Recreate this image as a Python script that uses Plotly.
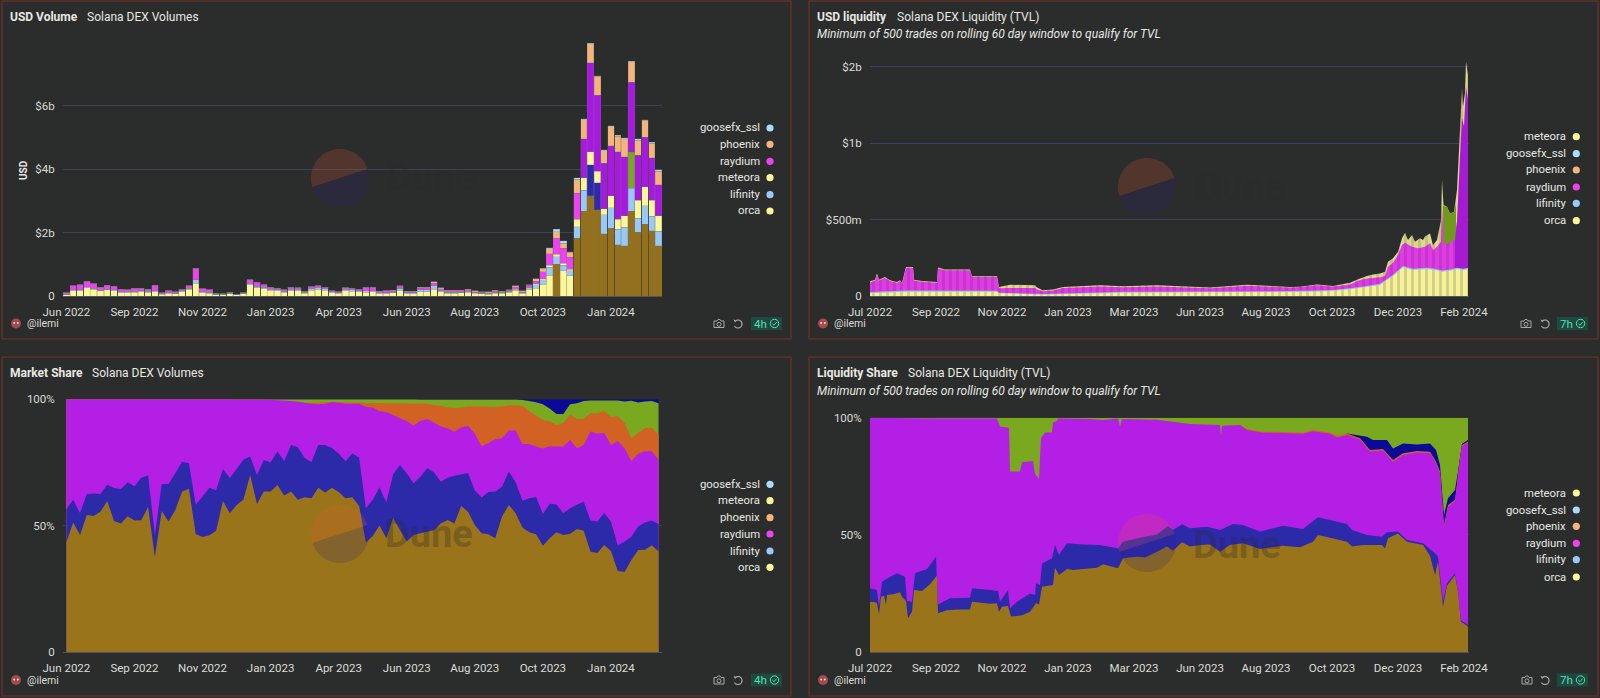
"""Solana DEX dashboard: volumes, liquidity and their shares, four panels in one figure."""

import numpy as np
import pandas as pd
import plotly.graph_objects as go

W, H = 1600, 698
BG = "#2b2d2d"
TEXT = "#e8e8e0"
TICK = "#dcdcd4"
GRID = "#34465a"
FONT = "Roboto"

# =============================================================================
# USD Volume (weekly, $b)
# =============================================================================
WEEK_START = "2022-06-27"
VOLUME_TICKS = ["2022-06-27", "2022-09-05", "2022-11-14", "2023-01-23", "2023-04-03",
                "2023-06-12", "2023-08-21", "2023-10-30", "2024-01-08"]

vol_orca = [.04, .16, .16, .26, .21, .16, .20, .16, .11, .11,
            .125, .13, .125, .13, .06, .08, .07, .14, .21, .41,
            .11, .09, .04, .04, .065, .035, .065, .36, .26, .23,
            .18, .16, .125, .17, .16, .09, .18, .21, .18, .11,
            .08, .165, .15, .13, .12, .13, .075, .075, .095, .17,
            .07, .07, .13, .13, .22, .13, .09, .09, .10, .12,
            .08, .065, .06, .08, .085, .115, .175, .08, .22, .24,
            .37, .66, 1.01, .80, .64, 1.82, 2.68, 3.17, 2.72, 1.96,
            2.14, 1.62, 1.58, 2.68, 2.02, 2.26, 2.06, 1.58]
vol_lifinity = [.02, .03, .03, .04, .03, .02, .02, .04, .03, .03,
                .03, .04, .03, .03, .01, .025, .02, .025, .03, .10,
                .03, .03, .01, .01, .02, .005, .02, .04, .05, .05,
                .04, .03, .03, .05, .05, .03, .05, .06, .05, .03,
                .03, .05, .045, .04, .04, .04, .02, .025, .03, .08,
                .04, .03, .06, .07, .10, .05, .03, .03, .02, .03,
                .02, .02, .02, .03, .03, .03, .03, .02, .05, .11,
                .14, .24, .23, .17, .16, .37, .66, .97, .86, .60,
                .65, .49, .59, .72, .44, .59, .45, .46]
vol_meteora = [0, 0, 0, 0, 0, 0, 0, 0, 0, 0,
               0, 0, 0, 0, 0, 0, 0, 0, 0, 0,
               0, 0, 0, 0, 0, 0, 0, 0, 0, 0,
               0, 0, 0, 0, 0, 0, 0, 0, 0, 0,
               0, 0, 0, 0, 0, 0, 0, 0, 0, 0,
               0, 0, 0, 0, .01, 0, 0, 0, 0, 0,
               0, 0, 0, 0, 0, 0, .01, 0, .01, .03,
               .03, .07, .08, .06, .04, .24, .40, .42, .36, .19,
               .37, .31, .37, 1.14, .57, .60, .52, .49]
vol_raydium = [.04, .13, .16, .17, .15, .10, .12, .11, .08, .06,
               .085, .08, .065, .18, .04, .055, .04, .055, .08, .37,
               .09, .08, .03, .02, .035, .02, .025, .12, .13, .08,
               .06, .05, .045, .05, .05, .03, .07, .055, .05, .03,
               .02, .05, .05, .045, .11, .10, .045, .06, .04, .06,
               .03, .035, .06, .06, .08, .05, .04, .04, .04, .04,
               .03, .03, .03, .04, .02, .03, .07, .04, .06, .09,
               .23, .37, .51, .47, .38, .81, 1.23, 2.81, 2.40, 1.44,
               1.59, 2.13, 1.86, 2.20, 1.42, 1.56, 1.33, .98]
vol_phoenix = [0, 0, 0, 0, 0, 0, 0, 0, 0, 0,
               0, 0, 0, 0, 0, 0, 0, 0, 0, 0,
               0, 0, 0, 0, 0, 0, 0, 0, 0, 0,
               0, 0, 0, 0, 0, 0, 0, 0, 0, 0,
               0, 0, 0, 0, .01, .01, .01, .01, .01, .02,
               .01, .01, .02, .02, .04, .03, .02, .02, .02, .03,
               .03, .025, .02, .03, .02, .025, .04, .03, .02, .07,
               .10, .15, .20, .16, .16, .45, .60, .59, .59, .40,
               .60, .50, .56, .65, .47, .53, .46, .43]
vol_goosefx = [0, 0, 0, 0, 0, 0, 0, 0, 0, 0,
               0, 0, 0, 0, 0, 0, 0, 0, 0, 0,
               0, 0, 0, 0, 0, 0, 0, 0, 0, 0,
               0, 0, 0, 0, 0, 0, 0, 0, 0, 0,
               0, 0, 0, 0, 0, 0, 0, 0, 0, 0,
               0, 0, 0, 0, 0, 0, 0, 0, 0, 0,
               0, 0, 0, 0, 0, 0, 0, 0, 0, 0,
               .01, .03, .08, .08, .01, .04, .02, .02, .02, .02,
               .02, .02, .03, .02, .04, .03, .03, .04]

# Weeks where the original renders a series in its darker colour
ORCA_DARK_WEEKS = [72, 75, 76, 77, 78, 79, 80, 81, 82, 83, 84, 85, 86, 87]
LIFINITY_DARK_WEEKS = [77, 78]
METEORA_GREEN_WEEKS = [83]
RAYDIUM_DARK_WEEKS = [76, 77, 78, 79, 80, 81, 82, 83, 84, 85, 86, 87]

# =============================================================================
# Market Share (weekly, top edge of each stacked band, %)
# =============================================================================
share_orca = [43.4, 51.2, 46.3, 54.2, 53.8, 55.5, 59.8, 51.8, 50.9, 53.7,
              52, 52.1, 57.4, 37.6, 55.8, 51.6, 56.2, 63.5, 64.6, 46.7,
              45.5, 46.2, 48, 59.8, 54.9, 58.2, 60.2, 70, 58.6, 63.5,
              63.5, 66.1, 61.9, 63.5, 60.2, 61.2, 60.8, 65, 63.1, 65,
              63.3, 60.8, 61.2, 57.9, 43.3, 45.9, 50.1, 45, 53,
              48.3, 43.7, 46.3, 47, 47.6, 48.3, 50.9, 52.2, 50.9, 57.8,
              55.5, 50.3, 47, 46.6, 45, 53.6, 58.2, 54.9, 49.3, 47.4,
              46.6, 42, 45, 47.4, 46.3, 46.8, 48.7, 48, 39.7, 39.2,
              42.3, 40, 32.1, 31.7, 36.4, 40.4, 40.5, 42.2, 39.8]
share_lifinity = [56.5, 60.2, 55, 62.5, 62.7, 62.5, 66.2, 64.9, 64.5, 67.2,
                  65.6, 69, 69.9, 46.3, 66.5, 66.5, 70.7, 75.3, 74.7, 58.3,
                  61.5, 65, 64, 72.4, 68.9, 72.4, 76.1, 77.4, 70, 76,
                  75.1, 79.3, 75.6, 81.9, 81, 76.8, 75.2, 81.9, 81.9, 80.7,
                  78.6, 75.5, 78.6, 77, 56.9, 60.2, 65.2, 59.2, 70.3, 74,
                  70.7, 66.8, 69.4, 72.7, 71.1, 67.4, 69, 69.7, 70.2, 70.8,
                  63.9, 61.1, 63.3, 63.5, 65.4, 71.4, 67.2, 59.9, 60.8, 61.3,
                  54.6, 58.7, 58.4, 54.9, 56.9, 58.3, 59.5, 52, 51.6, 55,
                  51.6, 42.1, 43.7, 45.6, 49.7, 51.2, 52, 50.7]
share_raydium = [100, 100, 100, 100, 100, 100, 100, 100, 100, 100,
                 100, 100, 100, 100, 100, 100, 100, 100, 100, 100,
                 100, 100, 100, 100, 100, 99.9, 99.9, 99.9, 99.9, 99.8,
                 99.8, 99.6, 99.4, 99.3, 99, 98.6, 98.2, 98, 98.2, 98.8,
                 98.6, 98.2, 98.2, 98.2, 97, 96.8, 95.3, 95, 93.8, 92.5,
                 91.4, 89.6, 91.4, 92.2, 90.8, 89.2, 88.5, 87.2, 88.9, 89.4,
                 86.5, 81.4, 82.7, 84.2, 84.6, 87.7, 87.7, 82.3, 82.3, 81.3,
                 80.5, 81.4, 81.3, 81.3, 83.9, 80.5, 81.9, 87.3, 86.4, 86.8,
                 81.9, 83.4, 80.6, 75.6, 78.5, 79.4, 79.4, 76]
share_phoenix = [100, 100, 100, 100, 100, 100, 100, 100, 100, 100,
                 100, 100, 100, 100, 100, 100, 100, 100, 100, 100,
                 100, 100, 100, 100, 100, 99.9, 99.9, 99.9, 99.9, 99.8,
                 99.8, 99.6, 99.4, 99.3, 99, 98.6, 98.6, 98.6, 98.8, 99,
                 98.9, 98.8, 98.7, 98.7, 98.4, 98.5, 98.5, 98.4, 98.3, 98.4,
                 98.3, 98.2, 98.3, 98.2, 97.6, 97.4, 96.8, 96.6, 96.7, 97.2,
                 97.2, 97.2, 97.1, 97.1, 97.2, 97.6, 97.6, 97.4, 95.4, 93.5,
                 91.8, 91.2, 89.8, 90.5, 93.9, 92.2, 92.2, 94.6, 94.5, 95.4,
                 92.9, 93.4, 90.6, 84.6, 86.8, 88.5, 88.7, 86.1]
share_meteora = [100, 100, 100, 100, 100, 100, 100, 100, 100, 100,
                 100, 100, 100, 100, 100, 100, 100, 100, 100, 100,
                 100, 100, 100, 100, 100, 100, 100, 100, 100, 100,
                 100, 100, 100, 100, 100, 100, 100, 100, 100, 100,
                 100, 100, 100, 100, 100, 100, 100, 100, 100, 100,
                 100, 100, 99.9, 99.9, 99.9, 99.9, 99.9, 99.9, 99.9, 99.9,
                 99.9, 99.9, 99.9, 99.9, 99.9, 99.9, 99.9, 99.7, 99.3, 98.8,
                 98, 96.4, 94.2, 94.2, 98, 98.4, 99.3, 99.5, 99.5, 99.5,
                 99.5, 99.5, 99.1, 99.4, 98.7, 99.1, 99.3, 98.4]

# =============================================================================
# USD liquidity ($b), days counted from LIQ_START, one list of days per band
# =============================================================================
LIQ_START = "2022-07-08"
LIQ_TICKS = ["2022-07-08", "2022-09-12", "2022-11-17", "2023-01-22", "2023-03-29",
             "2023-06-03", "2023-08-08", "2023-10-13", "2023-12-18", "2024-02-22"]

tvl_total_days = [0, 5, 7, 9, 15, 20, 27, 30, 32, 36, 43, 44, 52, 67, 68, 75, 100, 102, 127, 129,
                  140, 165, 167, 173, 183, 193, 230, 253, 287, 340, 377, 420, 430, 447, 463, 480,
                  490, 497, 503, 510, 515, 518, 523, 528, 532, 535, 538, 542, 545, 550, 553, 555,
                  560, 563, 567, 569, 571, 572, 573.5, 577, 580, 584, 587, 590, 592, 593, 595, 596, 598]
tvl_total = [.096, .107, .147, .107, .125, .103, .092, .103, .085, .19, .19, .107, .098, .092, .186,
             .173, .173, .129, .129, .059, .074, .07, .055, .037, .042, .059, .07, .064, .07, .055,
             .074, .059, .061, .076, .066, .087, .114, .131, .14, .148, .159, .225, .247, .29, .378,
             .415, .367, .40, .356, .378, .367, .39, .41, .334, .367, .432, .498, .76, .596, .585,
             .54, .552, .694, 1.087, 1.36, 1.24, 1.33, 1.535, 1.448]
tvl_raydium_days = [0, 5, 7, 9, 15, 20, 27, 30, 32, 36, 43, 44, 52, 67, 68, 75, 100, 102, 127, 129,
                    140, 165, 167, 173, 183, 193, 230, 253, 287, 340, 377, 420, 430, 447, 463, 480,
                    490, 497, 503, 510, 515, 518, 523, 528, 532, 535, 542, 548, 555, 560, 563, 567,
                    571, 572, 574, 578, 585, 587]
tvl_raydium = [.09, .10, .14, .10, .12, .098, .087, .098, .08, .185, .185, .10, .093, .087, .18,
               .168, .168, .124, .124, .05, .053, .053, .042, .031, .036, .053, .062, .057, .063,
               .05, .067, .055, .059, .07, .062, .076, .105, .115, .118, .122, .131, .192, .218,
               .269, .334, .349, .323, .312, .323, .345, .30, .323, .356, .596, .334, .345, .367, .487]
tvl_raydium_dark_days = [585, 587, 590, 592, 593, 594, 596, 598]
tvl_raydium_dark = [.367, .487, .913, 1.164, 1.14, 1.11, 1.37, 1.284]
tvl_meteora_green_days = [573, 574, 577, 580, 584, 586]
tvl_meteora_green = [.596, .59, .585, .54, .552, .60]
tvl_lifinity_days = [0, 36, 127, 129, 173, 253, 340, 420, 447, 463, 480, 497, 510, 523, 533, 543,
                     557, 565, 572, 580, 587, 593, 598]
tvl_lifinity = [.026, .036, .034, .022, .013, .028, .03, .032, .036, .04, .05, .066, .08, .139,
                .196, .178, .185, .178, .167, .174, .185, .178, .183]
tvl_orca_days = [0, 36, 127, 129, 173, 253, 340, 420, 447, 463, 480, 497, 510, 517, 523, 528, 533,
                 543, 557, 565, 572, 580, 587, 593, 598]
tvl_orca = [.018, .028, .028, .018, .009, .022, .024, .026, .03, .034, .045, .06, .072, .105, .131,
            .159, .188, .17, .177, .17, .159, .166, .177, .17, .175]
tvl_orca_dark_days = [534, 536, 538, 540, 543, 587]
tvl_orca_dark = [.186, .186, .18, .175, .17, .177]

# =============================================================================
# Liquidity Share (top edge of each band, %)
# =============================================================================
liq_orca_days = [0, 5, 7, 9, 11, 14, 16, 17, 23, 30, 32, 36, 38, 42, 44, 52, 60, 67, 68, 77, 87, 100,
                 102, 120, 127, 129, 132, 138, 141, 147, 153, 160, 166, 169, 172, 183, 185, 189, 197,
                 203, 213, 227, 233, 248, 253, 267, 275, 287, 297, 303, 312, 320, 330, 340, 350, 360,
                 373, 390, 413, 430, 443, 448, 460, 477, 482, 493, 512, 515, 518, 528, 537, 553, 560,
                 565, 568, 573, 577, 585, 588, 591, 595, 598]
liq_orca = [21.5, 21.2, 20.8, 16.1, 23.6, 24, 20.3, 24.3, 24.6, 25.5, 23.6, 21.8, 14.4, 17.2, 26.5, 26,
            28.9, 32.6, 16.5, 17.8, 18.1, 18.1, 21.5, 20.6, 20.8, 17.2, 19.3, 19.6, 15.1, 15.4, 15.8,
            17.2, 20.8, 20.3, 27.9, 28.6, 36, 32.9, 35.4, 35, 35.4, 36, 37.4, 35.7, 40, 40.7, 40.3,
            42.8, 45, 43.2, 46.8, 45, 45.7, 45.9, 42.8, 45.7, 46.4, 44, 45.4, 44.7, 47.1, 49.9, 48.8,
            47.1, 45, 45.7, 45.7, 44.2, 48.5, 50.6, 47.1, 45.7, 41.1, 32.9, 38.5, 19.3, 28.3, 32.9,
            25.7, 12.9, 11.8, 10.8]
liq_lifinity_days = [0, 7, 9, 12, 17, 27, 35, 37, 42, 45, 57, 66, 68, 80, 100, 102, 120, 128, 130, 138,
                     140, 147, 160, 165, 166, 170, 172, 182, 185, 189, 197, 213, 230, 248, 253, 270,
                     287, 298, 303, 312, 320, 337, 350, 363, 373, 390, 413, 433, 448, 477, 482, 497,
                     512, 517, 528, 537, 553, 565, 568, 573, 577, 585, 588, 591, 595, 598]
liq_lifinity = [27.2, 26.5, 19.3, 30, 31.4, 33.6, 32.1, 21.8, 21.5, 33.6, 35.4, 40.7, 20.3, 22.9, 23.2,
                27.2, 26.5, 26, 21.5, 26.5, 18.6, 21.5, 25, 24.3, 29.3, 28.6, 37.8, 40, 45.7, 41.4,
                46.4, 45.9, 45.7, 44.2, 47.1, 48.8, 50.2, 53.8, 52.1, 54.5, 52.8, 53.5, 52.1, 54.6,
                54.2, 51.4, 53.9, 52.5, 57.5, 54.6, 52.1, 49.9, 49.2, 51.1, 51.4, 47.8, 46.4, 42.1,
                40.7, 21.5, 29.3, 33.6, 25.7, 13.4, 12.5, 11.5]
liq_raydium_days = [0, 60, 127, 130, 139, 140, 150, 152, 163, 165, 169, 171, 175, 182, 183, 187, 188,
                    220, 233, 248, 250, 252, 287, 303, 320, 350, 351, 352, 370, 377, 393, 413, 433,
                    443, 460, 467, 477, 490, 500, 513, 523, 533, 547, 560, 566, 570, 574, 578, 585,
                    588, 592, 598]
liq_raydium = [100, 99.7, 99.7, 96.2, 95.7, 77, 77, 81, 81.5, 76.2, 73.8, 91.2, 93.7, 93.7, 98, 98.6,
               99.7, 99.4, 99, 99.7, 96.4, 99.4, 99.1, 98.3, 97.3, 96.9, 92.3, 96.6, 96.9, 94.8, 93.6,
               93.5, 93.1, 94.2, 93.1, 91.6, 92.6, 90.6, 85.6, 86, 81.2, 84.1, 85.1, 84.8, 80.6, 76.4,
               53.5, 62, 64.3, 75, 87.8, 89.3]
liq_phoenix_days = [370, 377, 393, 413, 433, 443, 460, 467, 477, 490, 500, 513, 523, 533, 547, 560,
                    566, 570, 574, 578, 585, 588, 592, 598]
liq_phoenix = [96.9, 95.2, 94, 93.9, 93.6, 94.7, 93.7, 92.3, 93.3, 91.2, 86.2, 86.6, 81.9, 84.8, 85.8,
               85.5, 81.2, 77, 54.2, 62.7, 64.9, 75.5, 88.3, 89.8]
liq_goosefx_days = [477, 497, 503, 517, 523, 533, 547, 560, 566, 570, 574, 578, 585, 588, 592, 598]
liq_goosefx = [93.3, 91.9, 90.5, 90.5, 86.9, 89, 88.6, 89, 86.2, 79.8, 58.5, 65.6, 69.1, 77, 88.9, 90.5]
liq_meteora_days = [0, 598]
liq_meteora = [100, 100]

VOLUME_LEGEND = ["goosefx_ssl", "phoenix", "raydium", "meteora", "lifinity", "orca"]
TVL_LEGEND = ["meteora", "goosefx_ssl", "phoenix", "raydium", "lifinity", "orca"]
SHARE_LEGEND = ["goosefx_ssl", "meteora", "phoenix", "raydium", "lifinity", "orca"]
LEGEND_COLORS = {"goosefx_ssl": "#a8dcf8", "phoenix": "#f4b47c", "raydium": "#f040f0",
                 "meteora": "#fdf79a", "lifinity": "#99c9f7", "orca": "#fdf79a"}

weeks = pd.date_range(WEEK_START, periods=len(vol_orca), freq="7D")
day0 = pd.Timestamp(LIQ_START)


def liq_dates(days):
    return [day0 + pd.Timedelta(days=d) for d in days]


def px(x):
    return x / W


def py(y):
    return 1 - y / H


def week_colors(base, dark, dark_weeks):
    return [dark if i in dark_weeks else base for i in range(len(weeks))]


fig = go.Figure()

# --- USD Volume ---
volume_series = [
    (vol_orca, week_colors("#fdf79a", "#957018", ORCA_DARK_WEEKS)),
    (vol_lifinity, week_colors("#99c9f7", "#2c2aa8", LIFINITY_DARK_WEEKS)),
    (vol_meteora, week_colors("#fdf79a", "#7aa81f", METEORA_GREEN_WEEKS)),
    (vol_raydium, week_colors("#f040f0", "#a818e0", RAYDIUM_DARK_WEEKS)),
    (vol_phoenix, week_colors("#f4b47c", "#f4b47c", [])),
    (vol_goosefx, week_colors("#a8dcf8", "#a8dcf8", [])),
]
for values, colors in volume_series:
    fig.add_trace(go.Bar(x=weeks, y=values, marker=dict(color=colors, line=dict(color="rgba(110,120,125,0.55)", width=0.5)),
                         xaxis="x", yaxis="y", showlegend=False))


def area(x, y, color, xaxis, yaxis, pattern=None):
    """Band painted down to zero; the bands are drawn from the top of the stack to the bottom."""
    trace = go.Scatter(x=x, y=y, mode="none", fill="tozeroy", fillcolor=color,
                       xaxis=xaxis, yaxis=yaxis, showlegend=False, hoverinfo="skip")
    if pattern:
        trace.fillpattern = dict(shape="|", size=7, solidity=0.4, fgcolor=pattern, bgcolor=color)
    return trace


# --- USD liquidity ---
fig.add_trace(area(liq_dates(tvl_total_days), tvl_total, "#dcd88e", "x2", "y2", "#a8a46a"))
fig.add_trace(area(liq_dates(tvl_meteora_green_days), tvl_meteora_green, "#6f9a1a", "x2", "y2"))
fig.add_trace(area(liq_dates(tvl_raydium_days), tvl_raydium, "#e03ce4", "x2", "y2", "#ab2eb8"))
fig.add_trace(area(liq_dates(tvl_raydium_dark_days), tvl_raydium_dark, "#a51ad2", "x2", "y2"))
fig.add_trace(area(liq_dates(tvl_lifinity_days), tvl_lifinity, "#8fc4e8", "x2", "y2"))
fig.add_trace(area(liq_dates(tvl_orca_days), tvl_orca, "#f6f29a", "x2", "y2", "#aeaa6e"))
fig.add_trace(go.Bar(x=liq_dates(tvl_orca_dark_days), y=tvl_orca_dark, width=1.2 * 86400000,
                     marker=dict(color="#957018", line=dict(width=0)),
                     xaxis="x2", yaxis="y2", showlegend=False))

# --- Market Share ---
fig.add_trace(area([weeks[0], weeks[-1]], [100, 100], "#0a0a96", "x3", "y3"))
fig.add_trace(area(weeks, share_meteora, "#7aa81f", "x3", "y3"))
fig.add_trace(area(weeks, share_phoenix, "#d26124", "x3", "y3"))
fig.add_trace(area(weeks, share_raydium, "#b41fe6", "x3", "y3"))
fig.add_trace(area(weeks, share_lifinity, "#2d2aaa", "x3", "y3"))
fig.add_trace(area(weeks, share_orca, "#99741b", "x3", "y3"))

# --- Liquidity Share ---
fig.add_trace(area(liq_dates(liq_meteora_days), liq_meteora, "#7aa81f", "x4", "y4"))
fig.add_trace(area(liq_dates(liq_goosefx_days), liq_goosefx, "#0a0a96", "x4", "y4"))
fig.add_trace(area(liq_dates(liq_phoenix_days), liq_phoenix, "#d26124", "x4", "y4"))
fig.add_trace(area(liq_dates(liq_raydium_days), liq_raydium, "#b41fe6", "x4", "y4"))
fig.add_trace(area(liq_dates(liq_lifinity_days), liq_lifinity, "#2d2aaa", "x4", "y4"))
fig.add_trace(area(liq_dates(liq_orca_days), liq_orca, "#99741b", "x4", "y4"))


# --- Axes ---
def x_axis(x0, x1, y_bottom, date_range, ticks, anchor):
    return dict(domain=[px(x0), px(x1)], range=date_range, anchor=anchor, type="date",
                tickvals=ticks, tickformat="%b %Y", showgrid=False, zeroline=False,
                showline=True, linecolor="#50565a", linewidth=1,
                ticks="outside", ticklen=5, tickcolor="rgba(0,0,0,0)",
                tickfont=dict(family=FONT, size=11.5, color=TICK))


def y_axis(y_top, y_bottom, value_range, ticks, labels, anchor):
    return dict(domain=[py(y_bottom), py(y_top)], range=value_range, anchor=anchor,
                tickvals=ticks, ticktext=labels, showgrid=True, gridcolor=GRID, gridwidth=1,
                zeroline=False, showline=False,
                ticks="outside", ticklen=5, tickcolor="rgba(0,0,0,0)",
                tickfont=dict(family=FONT, size=11.5, color=TICK))


week_range = ["2022-06-23 12:00", "2024-02-29 12:00"]
liq_range = ["2022-07-08", "2024-02-27"]

fig.update_layout(
    width=W, height=H, margin=dict(l=0, r=0, t=0, b=0, autoexpand=False), autosize=False,
    paper_bgcolor=BG, plot_bgcolor="rgba(0,0,0,0)", barmode="stack", bargap=0.06,
    showlegend=False, font=dict(family=FONT, color=TEXT),
    xaxis=x_axis(63, 662, 296, week_range, VOLUME_TICKS, "y"),
    yaxis=y_axis(40, 296, [0, 8.08], [0, 2, 4, 6], ["0", "$2b", "$4b", "$6b"], "x"),
    xaxis2=x_axis(870, 1469, 296, liq_range, LIQ_TICKS, "y2"),
    # 1.5b is really what the original rounds to "$2b"
    yaxis2=y_axis(50, 296, [0, 1.611], [0, .5, 1, 1.5], ["0", "$500m", "$1b", "$2b"], "x2"),
    xaxis3=x_axis(63, 662, 652, week_range, VOLUME_TICKS, "y3"),
    yaxis3=y_axis(399.3, 652, [0, 100], [0, 50, 100], ["0", "50%", "100%"], "x3"),
    xaxis4=x_axis(870, 1469, 652, liq_range, LIQ_TICKS, "y4"),
    yaxis4=y_axis(417.7, 652, [0, 100], [0, 50, 100], ["0", "50%", "100%"], "x4"),
)

annotations = []
shapes = []


def add_text(x, y, text, size=12, color=TEXT, anchor="left", **kw):
    annotations.append(dict(x=px(x), y=py(y), xref="paper", yref="paper", text=text, showarrow=False,
                            xanchor=anchor, yanchor="middle", font=dict(family=FONT, size=size, color=color), **kw))


def add_path(points, fill=None, line=None, width=1, closed=True):
    d = "M " + " L ".join(f"{px(x):.5f},{py(y):.5f}" for x, y in points) + (" Z" if closed else "")
    shapes.append(dict(type="path", path=d, xref="paper", yref="paper", fillcolor=fill or "rgba(0,0,0,0)",
                       line=dict(color=line or "rgba(0,0,0,0)", width=width)))


def arc(cx, cy, r, a0, a1, n=48):
    return [(cx + r * np.cos(a), cy - r * np.sin(a)) for a in np.linspace(a0, a1, n)]


def add_circle(cx, cy, r, fill=None, line=None, width=1):
    shapes.append(dict(type="circle", xref="paper", yref="paper", x0=px(cx - r), x1=px(cx + r),
                       y0=py(cy + r), y1=py(cy - r), fillcolor=fill or "rgba(0,0,0,0)",
                       line=dict(color=line or "rgba(0,0,0,0)", width=width)))


def add_panel(x0, y0, x1, y1):
    shapes.append(dict(type="rect", xref="paper", yref="paper", x0=px(x0), x1=px(x1), y0=py(y1), y1=py(y0),
                       line=dict(color="#7a3326", width=1), fillcolor="rgba(0,0,0,0)", layer="below"))


def add_legend(names, right, dot_x, rows):
    for name, y in zip(names, rows):
        add_text(right, y, name, size=11.3, anchor="right")
        add_circle(dot_x, y, 3.6, fill=LEGEND_COLORS[name])


def add_watermark(cx, cy, text_x, text_y):
    tilt = np.radians(18)
    add_path(arc(cx, cy, 29, tilt, tilt + np.pi), fill="rgba(240,90,50,0.2)")
    add_path(arc(cx, cy, 29, tilt + np.pi, tilt + 2 * np.pi), fill="rgba(38,30,120,0.2)")
    add_text(text_x, text_y, "<b>Dune</b>", size=38, color="rgba(40,40,40,0.3)")


def add_footer(avatar_x, camera_x, undo_x, badge_x, y, age):
    add_circle(avatar_x, y, 5, fill="#a8484c")
    add_circle(avatar_x - 1.8, y - 0.5, 1, fill="#f0e0e0")
    add_circle(avatar_x + 1.8, y - 0.5, 1, fill="#f0e0e0")
    add_text(avatar_x + 8.5, y, "@ilemi", size=10.5, color=TICK)
    # camera
    add_path([(camera_x - 5, y - 2.5), (camera_x - 2, y - 2.5), (camera_x - 1, y - 4), (camera_x + 1, y - 4),
              (camera_x + 2, y - 2.5), (camera_x + 5, y - 2.5), (camera_x + 5, y + 4), (camera_x - 5, y + 4)],
             line="#a9aaa8", width=1)
    add_circle(camera_x, y + 0.8, 2, line="#a9aaa8")
    # reload arrow
    add_path(arc(undo_x, y + 0.5, 4, np.radians(120), np.radians(-150)), line="#a9aaa8", width=1.2, closed=False)
    add_path([(undo_x - 4.5, y - 4), (undo_x - 1, y - 3), (undo_x - 3, y - 1)], fill="#a9aaa8")
    # age badge
    shapes.append(dict(type="rect", xref="paper", yref="paper", x0=px(badge_x), x1=px(badge_x + 31),
                       y0=py(y + 6.5), y1=py(y - 6.5), fillcolor="#1d4a3f", line=dict(width=0)))
    add_text(badge_x + 9, y, age, size=11.5, color="#5cdcb4", anchor="center")
    add_circle(badge_x + 23.5, y, 4.2, line="#5cdcb4")
    add_path([(badge_x + 21.5, y + 0.2), (badge_x + 23, y + 1.7), (badge_x + 25.6, y - 1.4)],
             line="#5cdcb4", closed=False)


add_panel(2, 1, 791, 339)
add_panel(809, 1, 1598, 339)
add_panel(2, 357, 791, 696)
add_panel(809, 357, 1598, 696)

add_text(8, 16.5, "<b>USD Volume</b>")
add_text(84.5, 16.5, "Solana DEX Volumes")
add_text(815, 16.5, "<b>USD liquidity</b>")
add_text(894.5, 16.5, "Solana DEX Liquidity (TVL)")
add_text(815, 34.5, "<i>Minimum of 500 trades on rolling 60 day window to qualify for TVL</i>")
add_text(8, 372.5, "<b>Market Share</b>")
add_text(90, 372.5, "Solana DEX Volumes")
add_text(815, 372.5, "<b>Liquidity Share</b>")
add_text(905.5, 372.5, "Solana DEX Liquidity (TVL)")
add_text(815, 390.5, "<i>Minimum of 500 trades on rolling 60 day window to qualify for TVL</i>")
add_text(24, 170, "<b>USD</b>", size=10, anchor="center", textangle=-90)

add_legend(VOLUME_LEGEND, 762, 770, [128, 144.3, 161.3, 177.7, 194.7, 211])
add_legend(TVL_LEGEND, 1568, 1576.3, [136.7, 153.7, 170, 187, 203.3, 220.7])
add_legend(SHARE_LEGEND, 762, 770, [484.3, 500.7, 517.7, 534, 551, 567.3])
add_legend(TVL_LEGEND, 1568, 1576.3, [493, 510, 526.3, 543.3, 559.7, 577])

add_watermark(340, 178, 385, 178)
add_watermark(1147, 187, 1195, 187)
add_watermark(340, 534, 383, 534)
add_watermark(1147, 543, 1191, 545)

add_footer(16, 719, 738, 751, 323.5, "4h")
add_footer(823, 1526, 1545, 1557, 323.5, "7h")
add_footer(16, 719, 738, 751, 680, "4h")
add_footer(823, 1527, 1545, 1557, 680, "7h")

fig.update_layout(annotations=annotations, shapes=shapes)

fig.write_html("out.html", config={"displayModeBar": False},
               post_script="document.body.style.margin='0';document.body.style.overflow='hidden';")
